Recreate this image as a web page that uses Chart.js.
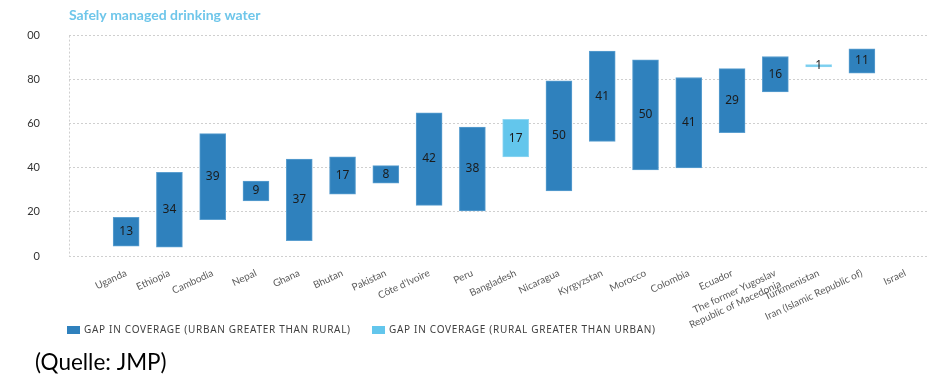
<!DOCTYPE html>
<html><head><meta charset="utf-8">
<script src="https://cdn.jsdelivr.net/npm/chart.js@4/dist/chart.umd.min.js"></script>
<style>html,body{margin:0;padding:0;background:#fff;overflow:hidden}#wrap{position:relative;width:938px;height:384px}</style>
</head><body><div id="wrap"><canvas id="c" width="938" height="384"></canvas></div>
<script>
const chartTitle = 'Safely managed drinking water';
const sourceNote = '(Quelle: JMP)';
const countries = ['Uganda','Ethiopia','Cambodia','Nepal','Ghana','Bhutan','Pakistan',"Côte d'Ivoire",'Peru','Bangladesh','Nicaragua','Kyrgyzstan','Morocco','Colombia','Ecuador',['The former Yugoslav','Republic of Macedonia'],'Turkmenistan','Iran (Islamic Republic of)','Israel'];
const ruralCoverage = [4.5,4,16.5,25,7,28,33,23,20.5,62,29.5,52,39,40,56,74.5,86.8,83,null];
const urbanCoverage = [17.5,38,55.5,34,44,45,41,65,58.5,45,79.5,93,89,81,85,90.5,85.8,94,null];
const seriesNames = ['GAP IN COVERAGE (URBAN GREATER THAN RURAL)','GAP IN COVERAGE (RURAL GREATER THAN URBAN)'];
const yTickValues = [0,20,40,60,80,100];
const yTickLabels = ['0','20','40','60','80','00'];

const urbanHigher = [], ruralHigher = [];
countries.forEach((c,i)=>{
  const r = ruralCoverage[i], u = urbanCoverage[i];
  if (r==null || u==null) return;
  if (u >= r) urbanHigher.push({x:i, y:[r,u]});
  else ruralHigher.push({x:i, y:[u,r]});
});

const DARK = '#2f81bd', LIGHT = '#63c6ec';

const overlay = {
  id:'overlay',
  afterDatasetsDraw(chart){
    const ctx = chart.ctx;
    ctx.save();
    ctx.font = '12px "Noto Sans"';
    ctx.fillStyle = '#1b1b1b';
    ctx.textAlign = 'center';
    ctx.textBaseline = 'middle';
    chart.data.datasets.forEach((ds,d)=>{
      const meta = chart.getDatasetMeta(d);
      meta.data.forEach((el,j)=>{
        const v = ds.data[j].y;
        const gap = Math.round(Math.abs(v[1]-v[0]));
        ctx.fillText(String(gap), el.x, (el.y+el.base)/2);
      });
    });
    ctx.restore();
  },
  afterDraw(chart){
    const ctx = chart.ctx, a = chart.chartArea;
    ctx.save();
    ctx.strokeStyle = '#cfcfcf'; ctx.lineWidth = 1; ctx.setLineDash([2,2]);
    ctx.beginPath(); ctx.moveTo(a.left+0.5, a.top); ctx.lineTo(a.left+0.5, a.bottom); ctx.stroke();
    ctx.setLineDash([]);
    ctx.font = 'bold 14px Lato';
    ctx.fillStyle = '#6ec6ea';
    ctx.textAlign = 'left'; ctx.textBaseline = 'middle';
    ctx.fillText(chartTitle, a.left, 15);
    ctx.font = '10px "Noto Sans"';
    if ('letterSpacing' in ctx) ctx.letterSpacing = '0.7px';
    const starts = [67, 372];
    chart.data.datasets.forEach((ds,d)=>{
      ctx.fillStyle = ds.backgroundColor;
      ctx.fillRect(starts[d], 326, 13, 8);
      ctx.fillStyle = '#404040';
      ctx.fillText(ds.label, starts[d]+17, 330.5);
    });
    if ('letterSpacing' in ctx) ctx.letterSpacing = '0px';
    ctx.font = '22.5px Lato';
    ctx.fillStyle = '#000';
    ctx.textBaseline = 'alphabetic';
    ctx.fillText(sourceNote, 35, 370);
    ctx.restore();
  }
};

new Chart(document.getElementById('c'), {
  type:'bar',
  data:{
    datasets:[
      {label:seriesNames[0], data:urbanHigher, backgroundColor:DARK, borderColor:'#5b9fd0', borderWidth:1, grouped:false, barThickness:26, borderSkipped:false},
      {label:seriesNames[1], data:ruralHigher, backgroundColor:LIGHT, borderColor:'#8fd6f2', borderWidth:1, grouped:false, barThickness:26, borderSkipped:false}
    ]
  },
  options:{
    responsive:false, animation:false,
    layout:{padding:{top:28,right:9,left:0,bottom:0}},
    plugins:{legend:{display:false}, tooltip:{enabled:false}, title:{display:false}},
    scales:{
      x:{
        type:'linear', min:-1.32, max:18.55, bounds:'data', offset:false,
        afterBuildTicks:(s)=>{ s.ticks = countries.map((c,i)=>({value:i})); },
        grid:{display:false}, border:{display:false},
        ticks:{autoSkip:false, minRotation:25, maxRotation:25,
          font:{family:'Lato', size:10}, color:'#5a5a5a', padding:3,
          callback:(v)=> countries[v] || ''},
        afterFit:(s)=>{ s.height = 128; s.paddingLeft = 0; s.paddingRight = 0; }
      },
      y:{
        min:0, max:100,
        afterBuildTicks:(s)=>{ s.ticks = yTickValues.map(v=>({value:v})); },
        grid:{color:'#cfcfcf', drawTicks:false, lineWidth:1},
        border:{display:false, dash:[2,2]},
        ticks:{padding:29, font:{family:'Lato', size:11}, color:'#333',
          callback:(v)=> yTickLabels[yTickValues.indexOf(v)]},
        afterFit:(s)=>{ s.width = 69; }
      }
    }
  },
  plugins:[overlay]
});
</script></body></html>
